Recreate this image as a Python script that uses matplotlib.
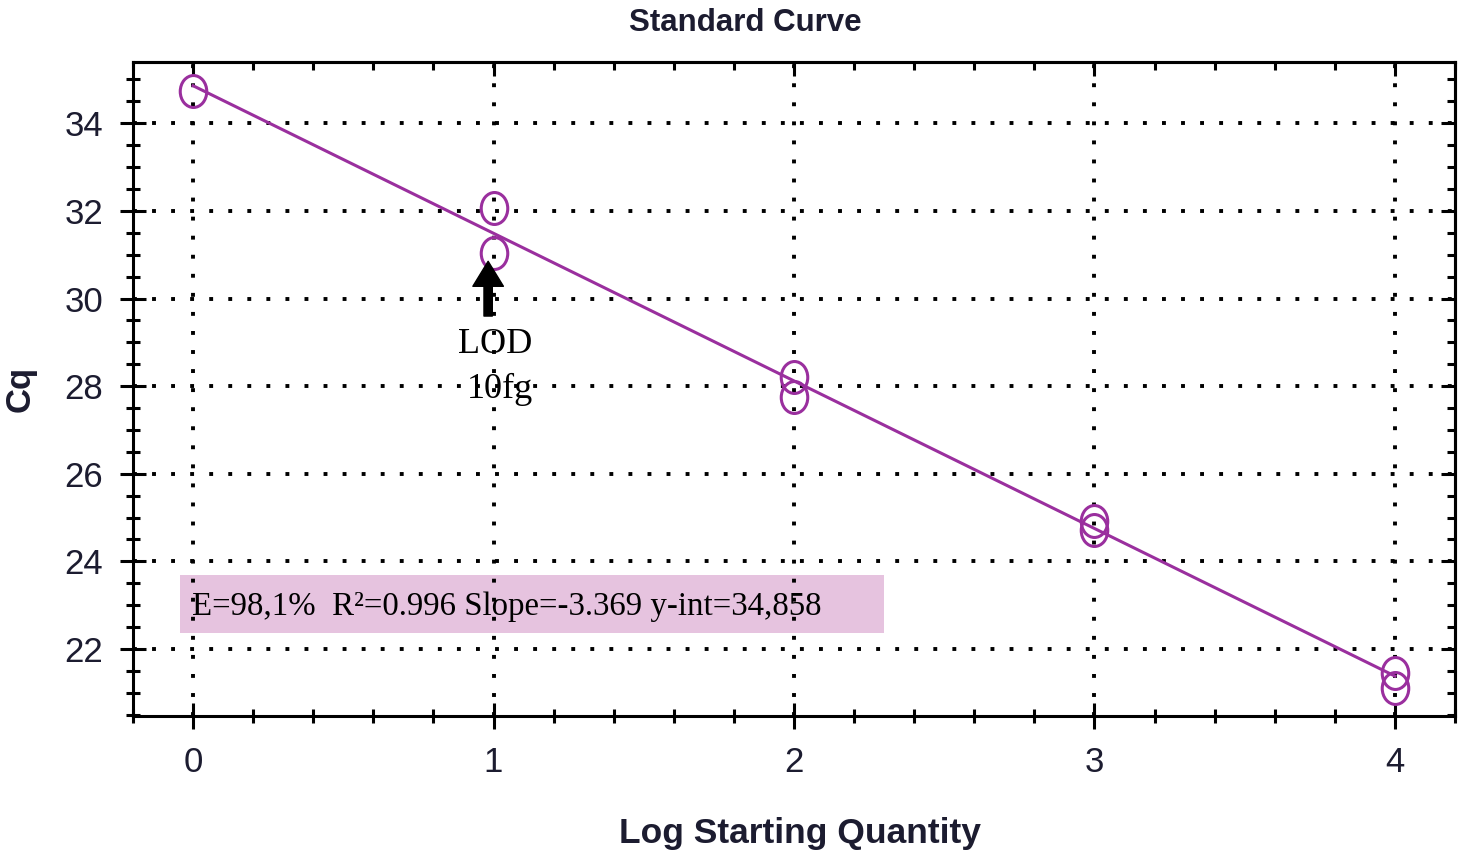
import matplotlib
matplotlib.use('Agg')
import matplotlib.pyplot as plt
import numpy as np
from matplotlib.path import Path
from matplotlib.patches import Rectangle
from matplotlib.ticker import MultipleLocator

#%%
# data
log_qty = [0, 1, 1, 2, 2, 3, 3, 4, 4]
cq = [34.73, 32.06, 31.03, 28.2, 27.75, 24.92, 24.71, 21.46, 21.12]

slope = -3.369
y_int = 34.858
fit_x = [0, 4]
stats_text = 'E=98,1%  R²=0.996 Slope=-3.369 y-int=34,858'

purple = '#9a2f9e'
ink = '#1c1c30'
sans = 'Liberation Sans'

#%%
# slightly tall circle, like the stretched marker in the picture
circ = Path.unit_circle()
ell = Path(circ.vertices * np.array([0.83, 1.0]), circ.codes)

fig = plt.figure(figsize=(14.76, 8.63), dpi=100)
ax = fig.add_axes([0.0901, 0.1703, 0.8957, 0.7579])

fit_y = [y_int + slope * v for v in fit_x]
ax.plot(fit_x, fit_y, color=purple, lw=2.2, zorder=3)
ax.plot(log_qty, cq, linestyle='none', marker=ell, markersize=23,
        markerfacecolor='none', markeredgecolor=purple, markeredgewidth=2.2,
        zorder=4)

ax.set_xlim(-0.2, 4.2)
ax.set_ylim(20.47, 35.4)
ax.xaxis.set_major_locator(MultipleLocator(1))
ax.xaxis.set_minor_locator(MultipleLocator(0.2))
ax.yaxis.set_major_locator(MultipleLocator(2))
ax.yaxis.set_minor_locator(MultipleLocator(0.5))

ax.grid(True, which='major', color='black', lw=2.8, linestyle=(0, (1, 3.9)))

for s in ax.spines.values():
    s.set_linewidth(2.2)

ax.tick_params(which='major', direction='inout', length=19, width=2.2,
               labelsize=25, labelcolor=ink, pad=12, labelfontfamily=sans)
ax.tick_params(which='minor', direction='inout', length=10, width=2.2)

# top and right ticks point inward only
top = ax.secondary_xaxis('top')
top.xaxis.set_major_locator(MultipleLocator(1))
top.xaxis.set_minor_locator(MultipleLocator(0.2))
top.tick_params(which='major', direction='in', length=10, width=2.2, labeltop=False)
top.tick_params(which='minor', direction='in', length=6, width=2.2)
right = ax.secondary_yaxis('right')
right.yaxis.set_major_locator(MultipleLocator(2))
right.yaxis.set_minor_locator(MultipleLocator(0.5))
right.tick_params(which='major', direction='in', length=10, width=2.2, labelright=False)
right.tick_params(which='minor', direction='in', length=6, width=2.2)
for s in list(top.spines.values()) + list(right.spines.values()):
    s.set_linewidth(2.2)

# title sits a bit left of the axes centre in the picture
ax.set_title('Standard Curve', fontsize=22.5, fontweight='bold', color=ink,
             family=sans, pad=22, x=0.463)
ax.set_xlabel('Log Starting Quantity', fontsize=25.5, fontweight='bold', color=ink,
              family=sans, labelpad=26)
ax.xaxis.set_label_coords(0.5045, -0.155)
ax.set_ylabel('Cq', fontsize=25, fontweight='bold', color=ink, family=sans,
              labelpad=20)

#%%
# stats box and LOD arrow
ax.add_patch(Rectangle((-0.043, 22.36), 2.343, 1.33, facecolor='#e6c3df',
                       edgecolor='none', zorder=1))
ax.text(-0.005, 22.96, stats_text, fontsize=23.7, family='Liberation Serif',
        va='center', ha='left', zorder=5)

ax.annotate('', xy=(0.982, 30.85), xytext=(0.982, 29.6),
            arrowprops=dict(facecolor='black', edgecolor='black', width=6,
                            headwidth=22, headlength=18), zorder=5)
ax.text(1.005, 28.95, 'LOD', fontsize=26, family='Liberation Serif',
        ha='center', va='center', zorder=5)
ax.text(1.02, 27.92, '10fg', fontsize=26, family='Liberation Serif',
        ha='center', va='center', zorder=5)

fig.savefig('out.png', dpi=100)
